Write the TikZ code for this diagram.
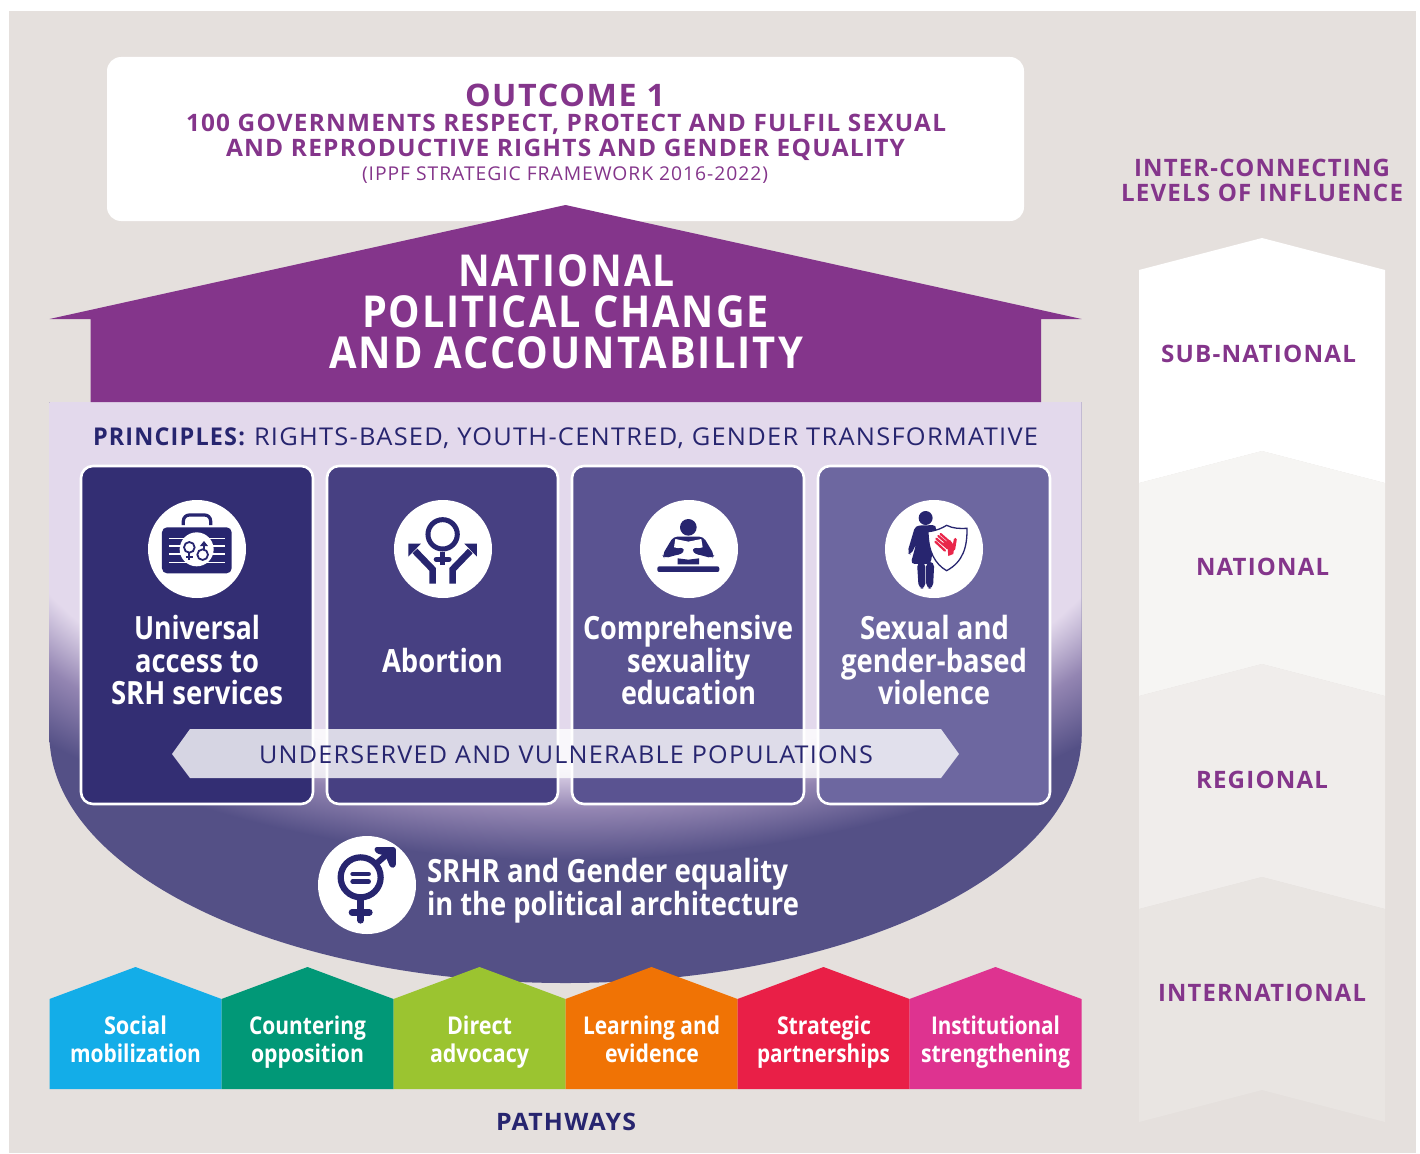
\documentclass[tikz,border=0pt]{standalone}
\usepackage{fontspec}
\usepackage{graphicx}
\setmainfont{Open Sans}
\newfontfamily\fsp[LetterSpace=5]{Open Sans}
\definecolor{bgc}{HTML}{E5E0DD}
\definecolor{purp}{HTML}{84358B}
\definecolor{navy}{HTML}{27256F}
\definecolor{lil}{HTML}{E3D9EC}
\definecolor{dk}{HTML}{545086}
\definecolor{midc}{HTML}{9385B2}
\definecolor{handred}{HTML}{E9264A}
\pgfdeclareradialshading{bowlglow}{\pgfpoint{0bp}{0bp}}{color(0bp)=(lil); color(19.5bp)=(lil); color(22bp)=(midc); color(25bp)=(dk); color(50bp)=(dk)}
\newcommand\fitw[2]{\resizebox{#1pt}{\height}{#2}}
\tikzset{
  txt/.style={anchor=base west,inner sep=0pt,outer sep=0pt},
  outhead/.style={txt,text=purp,font=\fontsize{31pt}{31pt}\selectfont\fsp\bfseries},
  outsub/.style={txt,text=purp,font=\fontsize{24pt}{24pt}\selectfont\fsp\bfseries},
  outsrc/.style={txt,text=purp,font=\fontsize{19pt}{19pt}\selectfont\fsp},
  roof/.style={txt,text=white,font=\fontsize{44pt}{44pt}\selectfont\fsp\bfseries},
  pri/.style={txt,text=navy,font=\fontsize{24.5pt}{25pt}\selectfont\fsp},
  card/.style={txt,text=white,font=\fontsize{32pt}{32pt}\selectfont\bfseries},
  path/.style={txt,text=white,font=\fontsize{24.5pt}{25pt}\selectfont\bfseries},
  level/.style={txt,text=purp,font=\fontsize{24pt}{24pt}\selectfont\fsp\bfseries},
  iconbg/.style={fill=white,circle,minimum size=98pt,inner sep=0pt},
  cardbox/.style={draw=white,line width=2.6pt,rounded corners=12pt},
}
\begin{document}
\begin{tikzpicture}[x=1pt,y=-1pt]
\useasboundingbox (0,0) rectangle (1420,1153);
\fill[white] (0,0) rectangle (1420,1153);
\fill[bgc] (9,11) rectangle (1416,1153);
% outcome
\fill[white,rounded corners=14pt] (107,57) rectangle (1024,221);
\node[outhead] (o1) at (465,107) {\fitw{200}{OUTCOME 1}};
\node[outsub] (o2) at (186,131.4) {\fitw{760}{100 GOVERNMENTS RESPECT, PROTECT AND FULFIL SEXUAL}};
\node[outsub] (o3) at (226,156) {\fitw{679}{AND REPRODUCTIVE RIGHTS AND GENDER EQUALITY}};
\node[outsrc] (o4) at (362,180) {\fitw{406}{(IPPF STRATEGIC FRAMEWORK 2016-2022)}};
% bowl
\fill[dk] (49.5,402) -- (49.5,735) arc[start angle=180,end angle=360,x radius=516,y radius=-248] -- (1081.5,402) -- cycle;
\begin{scope}
\clip (49.5,402) -- (49.5,735) arc[start angle=180,end angle=360,x radius=516,y radius=-248] -- (1081.5,402) -- cycle;
\shade[shading=bowlglow] (566,440) ellipse[x radius=750,y radius=420];
\end{scope}
% roof
\fill[purp] (565.5,205) -- (1081.5,319) -- (1041,319) -- (1041,402) -- (90.5,402) -- (90.5,319) -- (49.5,319) -- cycle;
\node[roof] (r1) at (458,286) {\fitw{217}{NATIONAL}};
\node[roof] (r2) at (362,327) {\fitw{407}{POLITICAL CHANGE}};
\node[roof] (r3) at (329,368) {\fitw{474}{AND ACCOUNTABILITY}};
\node[pri] (p0) at (93,445) {\fitw{152}{\bfseries PRINCIPLES:}};
\node[pri] (p1) at (254,445) {\fitw{784}{RIGHTS-BASED, YOUTH-CENTRED, GENDER TRANSFORMATIVE}};
% cards
\filldraw[cardbox,fill={rgb,255:red,51;green,46;blue,115}] (81,466) rectangle (313,804);
\filldraw[cardbox,fill={rgb,255:red,71;green,64;blue,130}] (327,466) rectangle (558,804);
\filldraw[cardbox,fill={rgb,255:red,90;green,83;blue,145}] (572,466) rectangle (804,804);
\filldraw[cardbox,fill={rgb,255:red,109;green,103;blue,160}] (818,466) rectangle (1050,804);
\node[iconbg] (c1) at (197,549) {};
\node[iconbg] (c2) at (443,549) {};
\node[iconbg] (c3) at (689,549) {};
\node[iconbg] (c4) at (934,549) {};
% briefcase
\begin{scope}[shift={(130,490)},x=0.3333pt,y=-0.3333pt]
\draw[navy,line width=3.2pt,rounded corners=6pt] (160,105) -- (160,75) -- (242,75) -- (242,105);
\fill[navy,rounded corners=5pt] (96,112) rectangle (305,250);
\foreach \yy in {145,168,192,217} \draw[white,line width=1.1pt] (117,\yy) -- (285,\yy);
\fill[white] (200,178) circle[radius=51];
\draw[navy,line width=1.8pt] (178,172) circle[radius=16];
\draw[navy,line width=1.8pt] (178,188) -- (178,210) (168,200) -- (188,200);
\draw[navy,line width=1.8pt] (218,194) circle[radius=16];
\draw[navy,line width=1.8pt] (222,178) -- (222,162);
\fill[navy] (222,153) -- (234,168) -- (210,168) -- cycle;
\end{scope}
% abortion
\begin{scope}[shift={(130,490)},x=0.3333pt,y=-0.3333pt]
\draw[navy,line width=5pt] (938,133) circle[radius=44];
\draw[navy,line width=5.2pt] (938,185) -- (938,226);
\draw[navy,line width=5.2pt,line cap=round] (919,208) -- (957,208);
\draw[navy,line width=6.6pt] (908,281) -- (908,238) -- (855,183);
\fill[navy] (835,161) -- (873,161) -- (835,200) -- cycle;
\draw[navy,line width=6.6pt] (968,281) -- (968,238) -- (1021,183);
\fill[navy] (1041,161) -- (1003,161) -- (1041,200) -- cycle;
\end{scope}
% reader
\begin{scope}[shift={(620,490)},x=0.3333pt,y=-0.3333pt]
\fill[navy] (205,112) circle[radius=25];
\fill[navy,rounded corners=2pt] (112,229) rectangle (298,246);
\fill[navy] (173,205) -- (205,209) -- (237,205) -- (237,223) -- (173,223) -- cycle;
\fill[navy,rounded corners=4pt] (160,140) -- (250,140) -- (283,195) -- (277,205) -- (222,190) -- (222,172) -- (188,172) -- (188,190) -- (133,205) -- (127,195) -- cycle;
\fill[white] (166,147) -- (205,155) -- (244,147) -- (248,172) -- (218,178) -- (218,198) -- (192,198) -- (192,178) -- (162,172) -- cycle;
\fill[navy,rounded corners=3pt] (162,178) -- (190,172) -- (192,188) -- (165,197) -- cycle;
\fill[navy,rounded corners=3pt] (248,178) -- (220,172) -- (218,188) -- (245,197) -- cycle;
\end{scope}
% woman and shield
\begin{scope}[shift={(620,490)},x=0.3333pt,y=-0.3333pt]
\fill[navy] (917,84) circle[radius=21];
\fill[navy,rounded corners=4pt] (886,107) -- (950,105) -- (932,222) -- (872,222) -- (889,160) -- (873,195) -- (862,188) -- cycle;
\fill[navy,rounded corners=5pt] (891,215) -- (916,215) -- (916,296) -- (896,296) -- cycle;
\fill[navy,rounded corners=5pt] (918,215) -- (943,215) -- (939,296) -- (919,296) -- cycle;
\filldraw[draw=navy,fill=white,line width=1.3pt] (924,125) .. controls (950,122) and (965,115) .. (980,106) .. controls (1000,116) and (1020,116) .. (1041,115) .. controls (1042,170) and (1030,215) .. (980,242) .. controls (945,222) and (925,185) .. (924,125) -- cycle;
\draw[handred,line width=2.2pt,line cap=round] (946,155) -- (975,182) (949,146) -- (982,174) (955,138) -- (988,166) (962,132) -- (994,160);
\fill[handred] (983,176) -- (966,160) -- (990,150) -- (1003,168) -- (1000,192) -- (985,198) -- cycle;
\draw[handred,line width=3pt,line cap=round] (1006,148) -- (1001,178);
\end{scope}
% card labels
\node[card] (t11) at (134,639) {\fitw{126}{Universal}};
\node[card] (t12) at (135,672) {\fitw{124}{access to}};
\node[card] (t13) at (111,704) {\fitw{172}{SRH services}};
\node[card] (t21) at (382,672) {\fitw{121}{Abortion}};
\node[card] (t31) at (583,639) {\fitw{210}{Comprehensive}};
\node[card] (t32) at (627,672) {\fitw{123}{sexuality}};
\node[card] (t33) at (621,704) {\fitw{135}{education}};
\node[card] (t41) at (860,639) {\fitw{149}{Sexual and}};
\node[card] (t42) at (841,672) {\fitw{186}{gender-based}};
\node[card] (t43) at (878,704) {\fitw{112}{violence}};
% banner
\fill[white,fill opacity=.8] (172,754) -- (190,729) -- (941,729) -- (959,754) -- (941,778) -- (190,778) -- cycle;
\node[pri] (b1) at (259,763) {\fitw{614}{UNDERSERVED AND VULNERABLE POPULATIONS}};
% srhr
\node[iconbg] (c5) at (367,885) {};
\begin{scope}[shift={(310,825)},x=0.3333pt,y=-0.3333pt]
\draw[navy,line width=6.2pt] (152,157) circle[radius=60];
\draw[navy,line width=6.6pt,line cap=round] (152,218) -- (152,286);
\draw[navy,line width=6.6pt,line cap=round] (126,262) -- (178,262);
\draw[navy,line width=4.6pt,line cap=round] (128,147) -- (176,147) (128,170) -- (176,170);
\draw[navy,line width=6pt] (200,115) -- (240,80);
\fill[navy,rounded corners=3pt] (192,66) -- (258,66) -- (258,126) -- (242,130) -- (226,92) -- (196,84) -- cycle;
\end{scope}
\node[card] (s1) at (427,882) {\fitw{361}{SRHR and Gender equality}};
\node[card] (s2) at (427,915) {\fitw{372}{in the political architecture}};
% pathways
\fill[fill={rgb,255:red,19;green,173;blue,232}] (49.5,1089) -- (49.5,999) -- (135.5,967) -- (221.5,999) -- (221.5,1089) -- cycle;
\fill[fill={rgb,255:red,1;green,152;blue,119}] (221.5,1089) -- (221.5,999) -- (307.5,967) -- (393.5,999) -- (393.5,1089) -- cycle;
\fill[fill={rgb,255:red,155;green,196;blue,48}] (393.5,1089) -- (393.5,999) -- (479.5,967) -- (565.5,999) -- (565.5,1089) -- cycle;
\fill[fill={rgb,255:red,240;green,115;blue,5}] (565.5,1089) -- (565.5,999) -- (651.5,967) -- (737.5,999) -- (737.5,1089) -- cycle;
\fill[fill={rgb,255:red,233;green,31;blue,71}] (737.5,1089) -- (737.5,999) -- (823.5,967) -- (909.5,999) -- (909.5,1089) -- cycle;
\fill[fill={rgb,255:red,222;green,51;blue,144}] (909.5,1089) -- (909.5,999) -- (995.5,967) -- (1081.5,999) -- (1081.5,1089) -- cycle;
\node[path] (h11) at (104,1034) {\fitw{63}{Social}};
\node[path] (h12) at (70,1062) {\fitw{131}{mobilization}};
\node[path] (h21) at (249,1034) {\fitw{117}{Countering}};
\node[path] (h22) at (251,1062) {\fitw{113}{opposition}};
\node[path] (h31) at (447,1034) {\fitw{65}{Direct}};
\node[path] (h32) at (430,1062) {\fitw{99}{advocacy}};
\node[path] (h41) at (583,1034) {\fitw{137}{Learning and}};
\node[path] (h42) at (605,1062) {\fitw{94}{evidence}};
\node[path] (h51) at (777,1034) {\fitw{94}{Strategic}};
\node[path] (h52) at (757,1062) {\fitw{133}{partnerships}};
\node[path] (h61) at (931,1034) {\fitw{129}{Institutional}};
\node[path] (h62) at (921,1062) {\fitw{149}{strengthening}};
\node[level,text=navy] (pw) at (496,1130) {\fitw{140}{PATHWAYS}};
% levels
\fill[white] (1139,270) -- (1262,238) -- (1385,270) -- (1385,483) -- (1262,451) -- (1139,483) -- cycle;
\fill[fill={rgb,255:red,246;green,245;blue,243}] (1139,483) -- (1262,451) -- (1385,483) -- (1385,696) -- (1262,664) -- (1139,696) -- cycle;
\fill[fill={rgb,255:red,240;green,237;blue,235}] (1139,696) -- (1262,664) -- (1385,696) -- (1385,909) -- (1262,877) -- (1139,909) -- cycle;
\fill[fill={rgb,255:red,233;green,229;blue,226}] (1139,909) -- (1262,877) -- (1385,909) -- (1385,1122) -- (1262,1090) -- (1139,1122) -- cycle;
\node[level] (l0a) at (1134,176) {\fitw{256}{INTER-CONNECTING}};
\node[level] (l0b) at (1121,201) {\fitw{282}{LEVELS OF INFLUENCE}};
\node[level] (l1) at (1161,362) {\fitw{195}{SUB-NATIONAL}};
\node[level] (l2) at (1196,575) {\fitw{133}{NATIONAL}};
\node[level] (l3) at (1196,788) {\fitw{132}{REGIONAL}};
\node[level] (l4) at (1158,1001) {\fitw{208}{INTERNATIONAL}};
\end{tikzpicture}
\end{document}
